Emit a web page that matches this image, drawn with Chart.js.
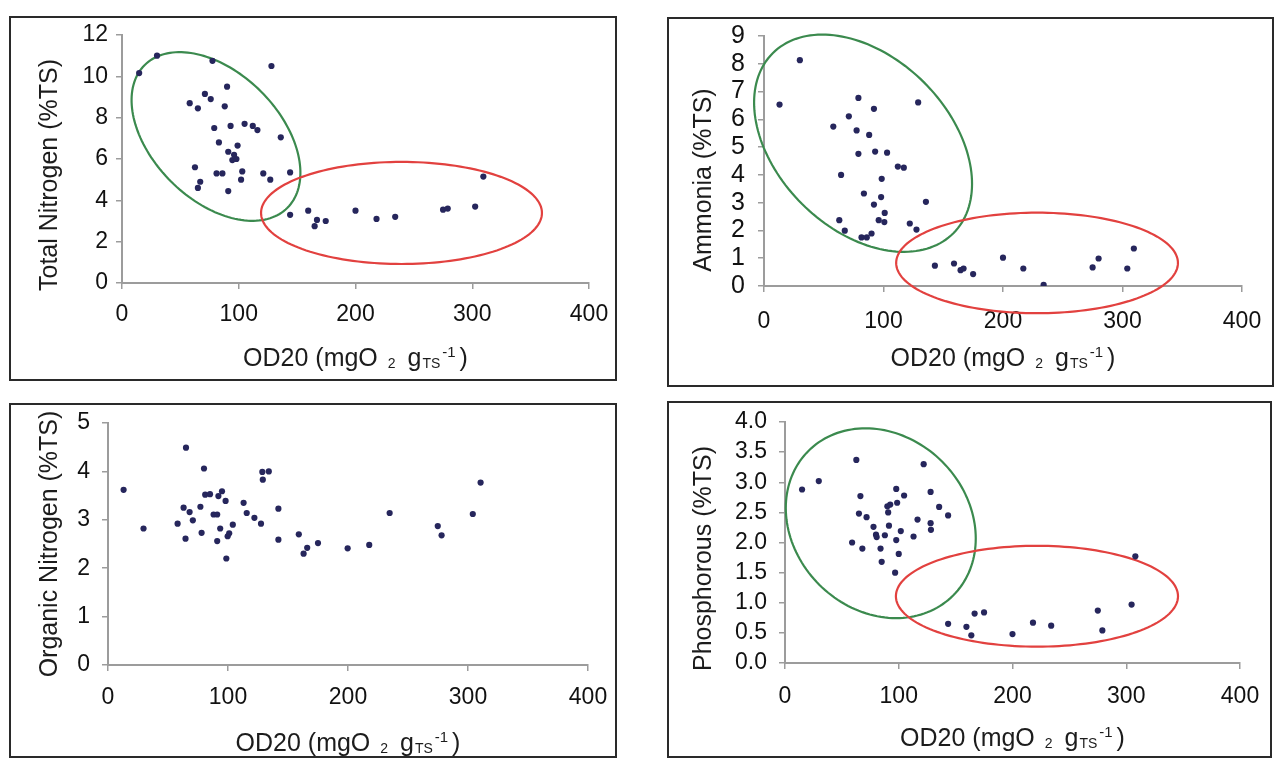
<!DOCTYPE html>
<html>
<head>
<meta charset="utf-8">
<script src="https://cdn.jsdelivr.net/npm/chart.js@4.4.1/dist/chart.umd.min.js"></script>
<style>
  body { margin: 0; width: 1283px; height: 760px; overflow: hidden; position: relative; background: #fff; }
  .panel { position: absolute; box-sizing: border-box; border: 2px solid #2a2a2a; background: #fff; }
  .panel canvas { display: block; }
</style>
</head>
<body>
<div class="panel" style="left:9px;top:16px;width:608px;height:365px"><canvas id="nTotal"></canvas></div>
<div class="panel" style="left:667px;top:17px;width:607px;height:370px"><canvas id="nAmmonia"></canvas></div>
<div class="panel" style="left:9px;top:403px;width:608px;height:355px"><canvas id="nOrganic"></canvas></div>
<div class="panel" style="left:667px;top:401px;width:605px;height:357px"><canvas id="phos"></canvas></div>
<script>
// OD20 values and measured contents, one pair of arrays per plot
var odTotal = [14.7, 30, 77.5, 128, 58, 65, 71, 76, 90, 88, 79, 93, 105, 112, 116, 136, 83, 99, 91, 96, 94.5, 98, 62.5, 81, 86, 103, 121, 144, 67, 65, 102, 127, 91, 144, 159.5, 167, 165, 174.5, 200, 218, 234, 275, 279, 302.5, 309.5];
var totalNitrogen = [10.16, 11.0, 10.75, 10.5, 8.7, 8.45, 9.15, 8.9, 9.5, 8.55, 7.5, 7.6, 7.7, 7.6, 7.4, 7.05, 6.8, 6.65, 6.35, 6.2, 5.95, 6.0, 5.6, 5.3, 5.3, 5.4, 5.3, 5.35, 4.9, 4.6, 5.0, 5.0, 4.45, 3.3, 3.5, 3.05, 2.75, 3.0, 3.5, 3.1, 3.2, 3.55, 3.6, 3.7, 5.15];

var odAmmonia = [13, 30, 58, 71, 79, 77.5, 92, 88, 79, 93, 103, 112, 117, 129, 64.5, 98.5, 83.6, 98, 92, 101, 135.5, 63, 96, 100.7, 122, 127.6, 67.6, 81.6, 86, 90, 143, 159, 164.5, 167, 175, 200, 217, 234, 275, 280, 304, 309.5];
var ammonia = [6.53, 8.13, 5.74, 6.11, 6.77, 5.6, 6.38, 5.44, 4.76, 4.84, 4.8, 4.3, 4.26, 6.61, 4.0, 3.86, 3.33, 3.2, 2.93, 2.63, 3.03, 2.37, 2.37, 2.3, 2.25, 2.03, 1.99, 1.75, 1.75, 1.89, 0.73, 0.81, 0.57, 0.63, 0.43, 1.02, 0.63, 0.04, 0.67, 0.99, 0.63, 1.35];

var odOrganic = [13, 29.6, 65, 80, 58, 63, 68, 70.7, 64.6, 77, 81, 85, 78, 88, 91, 91, 95, 92, 93.5, 98, 98.6, 99.7, 101, 104, 113, 115.6, 122, 127.5, 128.6, 129, 134, 142, 142, 159, 163, 166, 175, 199.7, 217.7, 234.7, 274.8, 278, 304, 310.5];
var organicNitrogen = [3.62, 2.82, 4.49, 4.06, 2.92, 3.25, 3.16, 2.99, 2.61, 3.27, 3.52, 3.53, 2.73, 3.11, 3.11, 2.56, 3.59, 3.49, 2.82, 3.39, 2.2, 2.66, 2.72, 2.9, 3.35, 3.14, 3.04, 2.92, 3.99, 3.83, 4.0, 3.23, 2.59, 2.7, 2.3, 2.42, 2.52, 2.41, 2.48, 3.14, 2.87, 2.68, 3.12, 3.77];

var odPhos = [15, 29.7, 62.7, 66.3, 65, 71.7, 59, 68, 77.8, 80, 80.6, 84, 85, 87.8, 90, 90.7, 92.5, 91.4, 97.8, 98.6, 97.8, 96.8, 100, 101.8, 104.7, 113, 116.5, 121.9, 128, 128, 128.3, 135.5, 143.4, 143.4, 159.5, 163.8, 166.7, 175, 200, 218, 234, 275, 279, 304.7, 308];
var phosphorous = [2.88, 3.02, 3.37, 2.77, 2.48, 2.42, 2.0, 1.9, 2.26, 2.13, 2.09, 1.9, 1.68, 2.12, 2.6, 2.5, 2.63, 2.28, 2.89, 2.66, 2.04, 1.5, 1.81, 2.19, 2.78, 2.1, 2.38, 3.3, 2.84, 2.32, 2.21, 2.59, 2.45, 0.65, 0.6, 0.46, 0.82, 0.84, 0.48, 0.67, 0.62, 0.87, 0.54, 0.97, 1.77];

var odTicks = [0, 100, 200, 300, 400];

// group outlines: centre and two half-diameters, all in axis units
var GREEN = '#3b8a4e', RED = '#e2413f';
var totalGroups = [
  { c: [80.5, 7.09], u: [61.2, -3.45], v: [-38.5, -2.18], color: GREEN },
  { c: [239.4, 3.39], u: [120.3, 0], v: [0, 2.47], color: RED }
];
var ammoniaGroups = [
  { c: [82.9, 5.14], u: [75.6, -3.24], v: [-51, -2.19], color: GREEN },
  { c: [228.5, 0.83], u: [117.9, 0], v: [0, 1.81], color: RED }
];
var phosGroups = [
  { c: [84.2, 2.32], u: [63.6, -1.2], v: [-54.1, -1.02], color: GREEN },
  { c: [221.5, 1.108], u: [124, 0], v: [0, 0.837], color: RED }
];

var ovals = {
  id: 'ovals',
  beforeDatasetsDraw: function (chart, args, opts) {
    var sx = chart.scales.x, sy = chart.scales.y, ctx = chart.ctx;
    (opts.list || []).forEach(function (e) {
      ctx.save();
      ctx.beginPath();
      for (var k = 0; k <= 160; k++) {
        var t = k / 160 * Math.PI * 2;
        var px = sx.getPixelForValue(e.c[0] + e.u[0] * Math.cos(t) + e.v[0] * Math.sin(t));
        var py = sy.getPixelForValue(e.c[1] + e.u[1] * Math.cos(t) + e.v[1] * Math.sin(t));
        if (k === 0) ctx.moveTo(px, py); else ctx.lineTo(px, py);
      }
      ctx.closePath();
      ctx.lineWidth = 2.2;
      ctx.strokeStyle = e.color;
      ctx.stroke();
      ctx.restore();
    });
  }
};

// axis titles; the x one needs the small "2", "TS" and raised "-1"
var axisText = {
  id: 'axisText',
  afterDraw: function (chart, args, o) {
    var a = chart.chartArea, ctx = chart.ctx;
    ctx.save();
    ctx.fillStyle = '#1c1c1c';
    ctx.translate(a.left - o.yGap, (a.top + a.bottom) / 2 + o.yShift);
    ctx.rotate(-Math.PI / 2);
    ctx.font = '25px "Liberation Sans"';
    ctx.textAlign = 'center';
    ctx.textBaseline = 'middle';
    ctx.fillText(o.yText, 0, 0);
    ctx.restore();

    var parts = [
      { t: 'OD20 (mgO ', size: 25, dy: 0, gap: 3 },
      { t: '2', size: 14, dy: 2, gap: 5 },
      { t: ' g', size: 25, dy: 0, gap: 1 },
      { t: 'TS', size: 14, dy: 2, gap: 2 },
      { t: '-1', size: 15, dy: -9, gap: 4 },
      { t: ')', size: 25, dy: 0, gap: 0 }
    ];
    ctx.save();
    ctx.fillStyle = '#1c1c1c';
    ctx.textBaseline = 'alphabetic';
    var total = 0;
    parts.forEach(function (p) {
      ctx.font = p.size + 'px "Liberation Sans"';
      p.w = ctx.measureText(p.t).width + p.gap;
      total += p.w;
    });
    var x = (a.left + a.right) / 2 - total / 2, base = a.bottom + o.xGap;
    parts.forEach(function (p) {
      ctx.font = p.size + 'px "Liberation Sans"';
      ctx.fillText(p.t, x, base + p.dy);
      x += p.w;
    });
    ctx.restore();
  }
};

function panel(id, xs, ys, cfg) {
  var pts = xs.map(function (x, i) { return { x: x, y: ys[i] }; });
  var axisGrey = '#9c9c9c';
  return new Chart(document.getElementById(id), {
    type: 'scatter',
    data: {
      datasets: [{
        data: pts,
        pointRadius: 3.1,
        pointBackgroundColor: '#26265c',
        pointBorderWidth: 0
      }]
    },
    options: {
      responsive: true,
      maintainAspectRatio: false,
      animation: false,
      layout: { padding: { left: 0, top: cfg.padTop, right: cfg.padRight, bottom: 0 } },
      plugins: {
        legend: { display: false },
        tooltip: { enabled: false },
        ovals: { list: cfg.groups || [] },
        axisText: { yText: cfg.title, yGap: cfg.yGap, yShift: cfg.yShift, xGap: cfg.xGap }
      },
      scales: {
        x: {
          type: 'linear',
          min: odTicks[0],
          max: odTicks[odTicks.length - 1],
          afterBuildTicks: function (s) { s.ticks = odTicks.map(function (v) { return { value: v }; }); },
          ticks: { autoSkip: false, maxRotation: 0, padding: cfg.xPad, color: '#111', font: { family: 'Liberation Sans', size: 23 } },
          grid: { drawOnChartArea: false, tickLength: 6, color: axisGrey, lineWidth: 1.5 },
          border: { color: axisGrey, width: 2 },
          afterFit: function (s) { s.height = cfg.xHeight; s.paddingLeft = 0; s.paddingRight = 0; }
        },
        y: {
          min: cfg.yTicks[0],
          max: cfg.yTicks[cfg.yTicks.length - 1],
          afterBuildTicks: function (s) { s.ticks = cfg.yTicks.map(function (v) { return { value: v }; }); },
          ticks: {
            autoSkip: false,
            padding: cfg.yPad,
            color: '#111',
            font: { family: 'Liberation Sans', size: cfg.yFont },
            callback: function (v) { return cfg.decimals ? v.toFixed(cfg.decimals) : String(v); }
          },
          grid: { drawOnChartArea: false, tickLength: 6, color: axisGrey, lineWidth: 1.5 },
          border: { color: axisGrey, width: 2 },
          afterFit: function (s) { s.width = cfg.yWidth; s.paddingTop = 0; s.paddingBottom = 0; }
        }
      }
    },
    plugins: [ovals, axisText]
  });
}

panel('nTotal', odTotal, totalNitrogen, {
  yTicks: [0, 2, 4, 6, 8, 10, 12], title: 'Total Nitrogen (%TS)', groups: totalGroups,
  yWidth: 111, padTop: 17, padRight: 26, xHeight: 96, yPad: 8, xPad: 12, yFont: 23,
  yGap: 72, yShift: 16, xGap: 83
});
panel('nAmmonia', odAmmonia, ammonia, {
  yTicks: [0, 1, 2, 3, 4, 5, 6, 7, 8, 9], title: 'Ammonia (%TS)', groups: ammoniaGroups,
  yWidth: 95, padTop: 17, padRight: 30, xHeight: 99, yPad: 13, xPad: 16, yFont: 25,
  yGap: 60, yShift: 19, xGap: 80
});
panel('nOrganic', odOrganic, organicNitrogen, {
  yTicks: [0, 1, 2, 3, 4, 5], title: 'Organic Nitrogen (%TS)',
  yWidth: 97, padTop: 18, padRight: 27, xHeight: 91, yPad: 12, xPad: 13, yFont: 23,
  yGap: 58, yShift: 0, xGap: 86
});
panel('phos', odPhos, phosphorous, {
  yTicks: [0, 0.5, 1, 1.5, 2, 2.5, 3, 3.5, 4], title: 'Phosphorous (%TS)', groups: phosGroups, decimals: 1,
  yWidth: 116, padTop: 19, padRight: 30, xHeight: 93, yPad: 12, xPad: 14, yFont: 23,
  yGap: 81, yShift: 16, xGap: 83
});
</script>
</body>
</html>
